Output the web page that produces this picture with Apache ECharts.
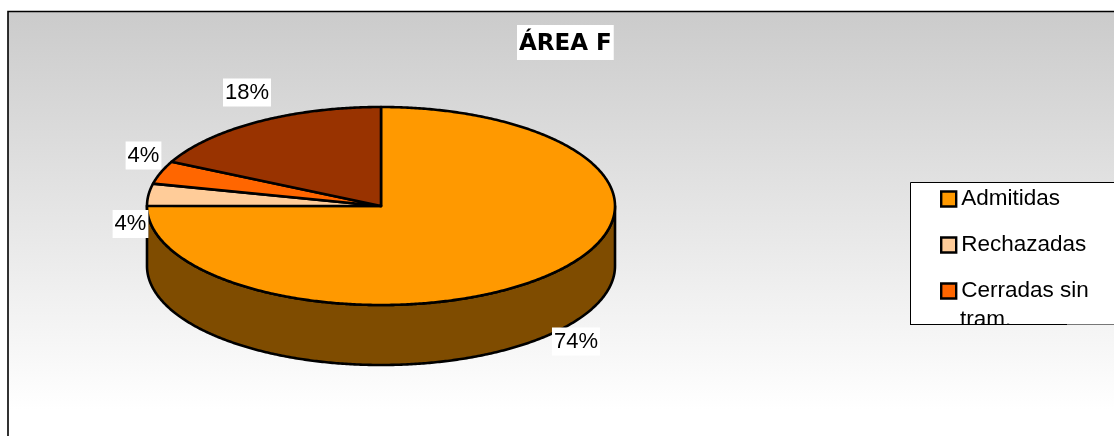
<!DOCTYPE html>
<html>
<head>
<meta charset="utf-8">
<style>html,body{margin:0;padding:0;background:#fff}#c{width:1114px;height:436px}</style>
<script src="https://cdn.jsdelivr.net/npm/echarts@6/dist/echarts.min.js"></script>
</head>
<body>
<div id="c"></div>
<script>
const chartTitle = 'ÁREA F';
const categories = ['Admitidas', 'Rechazadas', 'Cerradas sin tram.', 'Otras'];
const values = [74.45, 3.55, 3.7, 17.5];
const sliceColors = ['#ff9900', '#ffcc99', '#ff6600', '#993300'];
const legendNames = ['Admitidas', 'Rechazadas', 'Cerradas sin tram.'];

const PIE = { cx: 381, cy: 206, rx: 234, ry: 99, depth: 60 };
const labelCentres = [[576, 341.5], [130.5, 224], [143.5, 155.5], [247, 92.5]];
const total = values.reduce((a, b) => a + b, 0);
const starts = values.map((_, i) => values.slice(0, i).reduce((a, b) => a + b, 0) / total * 360);

function pt(deg, dy) {
  const t = deg * Math.PI / 180;
  return [PIE.cx + PIE.rx * Math.sin(t), PIE.cy - PIE.ry * Math.cos(t) + (dy || 0)];
}
function arc(a, b, dy) {
  const out = [];
  for (let d = a; d < b; d += 0.5) out.push(pt(d, dy));
  out.push(pt(b, dy));
  return out;
}
function shade(hex) {
  const n = parseInt(hex.slice(1), 16);
  const f = v => Math.floor(v / 2).toString(16).padStart(2, '0');
  return '#' + f(n >> 16 & 255) + f(n >> 8 & 255) + f(n & 255);
}
function sliceRenderer(i) {
  return function (params, api) {
    const v = api.value(0);
    const a = starts[i], b = a + v / total * 360;
    const children = [];
    const wa = Math.max(a, 90), wb = Math.min(b, 270);
    if (wb > wa) {
      const top = arc(wa, wb, 0), bot = arc(wa, wb, PIE.depth).reverse();
      children.push({
        type: 'polygon', shape: { points: top.concat(bot) },
        style: { fill: shade(sliceColors[i]), stroke: '#000', lineWidth: 2.6, lineJoin: 'round' }
      });
    }
    children.push({
      type: 'polygon', shape: { points: [[PIE.cx, PIE.cy]].concat(arc(a, b, 0)) },
      style: { fill: sliceColors[i], stroke: '#000', lineWidth: 2.6, lineJoin: 'round' }
    });
    children.push({
      type: 'text', z2: 50,
      style: {
        text: Math.round(v) + '%', x: labelCentres[i][0], y: labelCentres[i][1],
        align: 'center', verticalAlign: 'middle', fill: '#000',
        font: '22px "Liberation Sans", Arial, sans-serif',
        backgroundColor: '#fff', padding: [3, 2, 3, 2]
      }
    });
    return { type: 'group', children };
  };
}

const bgFill = {
  type: 'linear', global: true, x: 0, y: 11, x2: 0, y2: 410,
  colorStops: [{ offset: 0, color: '#cbcbcb' }, { offset: 1, color: '#ffffff' }]
};

const chart = echarts.init(document.getElementById('c'), null, { renderer: 'canvas' });
chart.setOption({
  animation: false,
  backgroundColor: '#ffffff',
  title: {
    text: chartTitle, left: 517, top: 25, padding: [5, 2, 2, 2],
    backgroundColor: '#fff',
    textStyle: { fontFamily: '"DejaVu Sans"', fontWeight: 'bold', fontSize: 23, color: '#000', lineHeight: 28 }
  },
  legend: {
    data: legendNames, orient: 'vertical', left: 935, top: 181.5, itemWidth: 15, itemHeight: 15,
    itemGap: 21, icon: 'rect', selectedMode: false,
    itemStyle: { borderColor: '#000', borderWidth: 2.4 },
    formatter: n => n.replace(' tram.', ''),
    textStyle: { fontFamily: '"Liberation Sans"', fontSize: 22.5, color: '#000', lineHeight: 25, padding: [0, 0, 0, 0] }
  },
  graphic: [
    { type: 'rect', z: -10, silent: true, shape: { x: 8, y: 11.5, width: 1130, height: 450 },
      style: { fill: bgFill, stroke: '#000', lineWidth: 1.6 } },
    { type: 'rect', z: 1, silent: true, shape: { x: 910.5, y: 182.5, width: 220, height: 142 },
      style: { fill: '#fff', stroke: '#000', lineWidth: 1 } },
    { type: 'text', z: 20, silent: true,
      style: { text: 'tram.', x: 960, y: 319.5, verticalAlign: 'middle', fill: '#000', font: '22.5px "Liberation Sans"' } },
    { type: 'rect', z: 30, silent: true, shape: { x: 905, y: 325, width: 215, height: 22 }, style: { fill: bgFill } },
    { type: 'line', z: 31, silent: true, shape: { x1: 910, y1: 324.5, x2: 1067, y2: 324.5 },
      style: { stroke: '#000', lineWidth: 1 } },
    { type: 'line', z: 31, silent: true, shape: { x1: 1067, y1: 324.5, x2: 1114, y2: 324.5 },
      style: { stroke: '#777', lineWidth: 1 } }
  ],
  series: categories.map((name, i) => ({
    type: 'custom', name, coordinateSystem: 'none', silent: true,
    itemStyle: { color: sliceColors[i] },
    data: [[values[i]]],
    renderItem: sliceRenderer(i)
  }))
});
</script>
</body>
</html>
